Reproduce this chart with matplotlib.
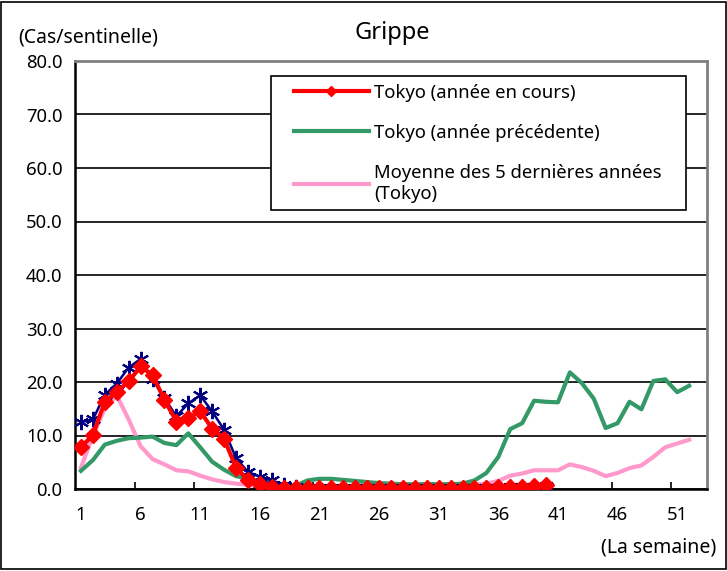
import matplotlib.pyplot as plt
import numpy as np
from matplotlib.patches import Rectangle
from matplotlib.ticker import FixedLocator
from matplotlib.legend_handler import HandlerLine2D

plt.rcParams['font.family'] = ['Noto Sans', 'DejaVu Sans']

# weekly values (cases per sentinel site)
weeks_all = np.arange(1, 53)
weeks_cur = np.arange(1, 41)

tokyo_current = [7.8, 10.1, 16.3, 18.2, 20.1, 22.9, 21.3, 16.7, 12.6, 13.3,
                 14.5, 11.3, 9.4, 4.0, 1.7, 0.9, 0.4, 0.2, 0.2, 0.1,
                 0.1, 0.1, 0.1, 0.1, 0.1, 0.1, 0.1, 0.2, 0.2, 0.2,
                 0.2, 0.2, 0.2, 0.2, 0.2, 0.3, 0.4, 0.4, 0.5, 0.8]
national_current = [12.5, 13.0, 17.6, 19.7, 22.7, 24.3, 20.5, 17.0, 13.6, 16.0,
                    17.5, 14.5, 11.1, 5.8, 3.2, 2.3, 1.6, 0.8, 0.3, 0.1,
                    0.1, 0.1, 0.1, 0.1, 0.1, 0.1, 0.1, 0.1, 0.1, 0.1,
                    0.1, 0.1, 0.1, 0.1, 0.2, 0.2, 0.3, 0.3, 0.4, 0.5]
tokyo_previous = [3.4, 5.4, 8.3, 9.0, 9.5, 9.6, 9.8, 8.6, 8.2, 10.4,
                  7.8, 5.1, 3.6, 2.4, 2.0, 1.4, 0.9, 0.6, 0.6, 1.6,
                  1.9, 1.9, 1.7, 1.5, 1.3, 1.1, 1.0, 0.9, 0.9, 0.9,
                  0.9, 0.9, 1.0, 1.6, 3.0, 6.0, 11.2, 12.3, 16.5, 16.3,
                  16.2, 21.8, 19.8, 16.9, 11.4, 12.3, 16.3, 14.9, 20.2, 20.5,
                  18.1, 19.3]
tokyo_5yr_avg = [4.0, 10.0, 15.0, 17.5, 13.0, 8.0, 5.6, 4.6, 3.5, 3.3,
                 2.5, 1.8, 1.3, 1.0, 0.8, 0.6, 0.5, 0.4, 0.4, 0.4,
                 0.4, 0.4, 0.4, 0.4, 0.4, 0.4, 0.4, 0.4, 0.4, 0.5,
                 0.5, 0.6, 0.7, 0.8, 1.0, 1.5, 2.5, 2.9, 3.5, 3.5,
                 3.5, 4.6, 4.1, 3.4, 2.4, 3.0, 3.9, 4.4, 6.0, 7.8,
                 8.5, 9.2]

labels = ["Tokyo (année en cours)", "Tokyo (année précédente)",
          "Moyenne des 5 dernières années\n(Tokyo)"]

FS = 13.3
W, H = 727, 571
fig = plt.figure(figsize=(W / 100, H / 100), dpi=100)
ax = fig.add_axes([75 / W, 1 - 489 / H, (707 - 75) / W, (489 - 61) / H])

p_avg, = ax.plot(weeks_all, tokyo_5yr_avg, color="#FF99CC", lw=3, zorder=2)
p_prev, = ax.plot(weeks_all, tokyo_previous, color="#339966", lw=3, zorder=3)
ax.plot(weeks_cur, national_current, color="#000080", lw=1.8,
        marker=(6, 2, 0), ms=11, mew=1.5, zorder=4)
p_cur, = ax.plot(weeks_cur, tokyo_current, color="#FF0000", lw=3,
                 marker="D", ms=8, zorder=5)

ax.set_xlim(0.5, 53.5)
ax.set_ylim(0, 80)

ax.set_yticks(np.arange(0, 81, 10))
ax.set_yticklabels([f"{v:.1f}" for v in np.arange(0, 81, 10)])
ax.yaxis.grid(True, color="black", lw=1.2)
ax.set_axisbelow(True)
ax.tick_params(axis="y", length=0, pad=9, labelsize=FS)

ax.set_xticks(np.arange(1, 53, 5))
ax.tick_params(axis="x", which="major", length=0, pad=12, labelsize=FS)
ax.xaxis.set_minor_locator(FixedLocator(np.arange(5.5, 53, 5)))
ax.tick_params(axis="x", which="minor", direction="in", length=5, width=1.2)

for side in ["left", "bottom"]:
    ax.spines[side].set_color("black")
    ax.spines[side].set_linewidth(1.8)
for side in ["right", "top"]:
    ax.spines[side].set_color("#808080")
    ax.spines[side].set_linewidth(2)

hl = HandlerLine2D(numpoints=1, xpad=0.85)
leg = ax.legend([p_cur, p_prev, p_avg], labels, loc="upper left",
                bbox_to_anchor=(271 / W, 1 - 82 / H, (686 - 271) / W, 0.01),
                bbox_transform=fig.transFigure, mode="expand",
                handler_map={p_cur: hl, p_prev: hl, p_avg: hl},
                handlelength=4.9, handletextpad=0.3,
                labelspacing=1.2, borderpad=0.4, borderaxespad=0,
                fancybox=False, framealpha=1, edgecolor="black",
                fontsize=FS)
leg.get_frame().set_linewidth(1.2)
for h in leg.legend_handles:
    h.set_markersize(5)

fig.text(392 / W, 1 - 33 / H, "Grippe", ha="center", va="center", fontsize=17)
fig.text(18 / W, 1 - 38 / H, "(Cas/sentinelle)", ha="left", va="center",
         fontsize=14)
fig.text(716 / W, 1 - 547 / H, "(La semaine)", ha="right", va="center",
         fontsize=14)

fig.add_artist(Rectangle((0.002, 0.003), 0.996, 0.994, transform=fig.transFigure,
                         fill=False, edgecolor="black", lw=1.2))

fig.savefig("out.png", dpi=100)
